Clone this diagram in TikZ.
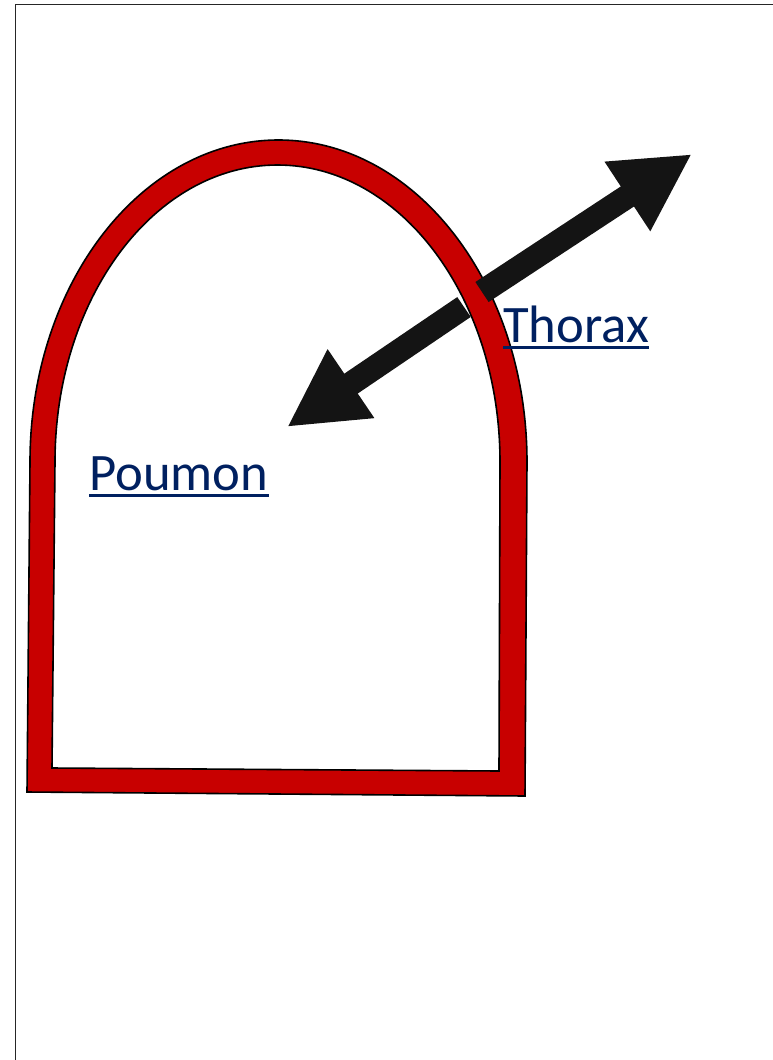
\documentclass[tikz,border=0pt]{standalone}
\usepackage{fontspec}
\setmainfont{Carlito}
\usepackage{xcolor}
\usepackage{tikz}
\usetikzlibrary{arrows.meta, calc}
\definecolor{bandred}{RGB}{200,0,0}
\definecolor{lblblue}{RGB}{0,32,96}
\definecolor{arrblack}{RGB}{20,20,20}
\tikzset{
  band/.style={fill=bandred, draw=black, line width=1.2pt, even odd rule},
  arr/.style={-{Triangle[length=58pt, width=58pt]}, line width=18pt, draw=arrblack},
  lbl/.style={inner sep=0pt, text=lblblue, font=\fontsize{39.5}{42}\selectfont},
  uline/.style={draw=lblblue, line width=2.2pt},
}

\begin{document}
\begin{tikzpicture}[x=0.75pt, y=-0.75pt]
  \useasboundingbox (0,0) rectangle (773,1060);
  \clip (0,0) rectangle (773,1060);
  % frame
  \draw[line width=1.4pt, black!85] (15.5,4.5) rectangle (800,1090);
  % arrow into the lung (under the band)
  \coordinate (inS) at (464,307);
  \coordinate (inT) at (287,427);
  \draw[arr] (inS) -- (inT);
  % thorax wall
  \path[band] (27,792) -- (30,462) arc (180:360:248.5 and 322) -- (525,796) -- cycle
              (52,768) -- (55,462) arc (180:360:222.5 and 297) -- (499,771) -- cycle;
  % arrow out of the thorax
  \coordinate (outS) at (482,292);
  \coordinate (outT) at (692,154);
  \draw[arr] (outS) -- (outT);
  % labels
  \node[lbl, anchor=base west] (thorax) at (503,342) {Thorax};
  \node[lbl, anchor=base west] (poumon) at (89,490) {Poumon};
  \draw[uline] ([yshift=-4pt]thorax.base west) -- ([yshift=-4pt]thorax.base east);
  \draw[uline] ([yshift=-4pt]poumon.base west) -- ([yshift=-4pt]poumon.base east);
\end{tikzpicture}
\end{document}
